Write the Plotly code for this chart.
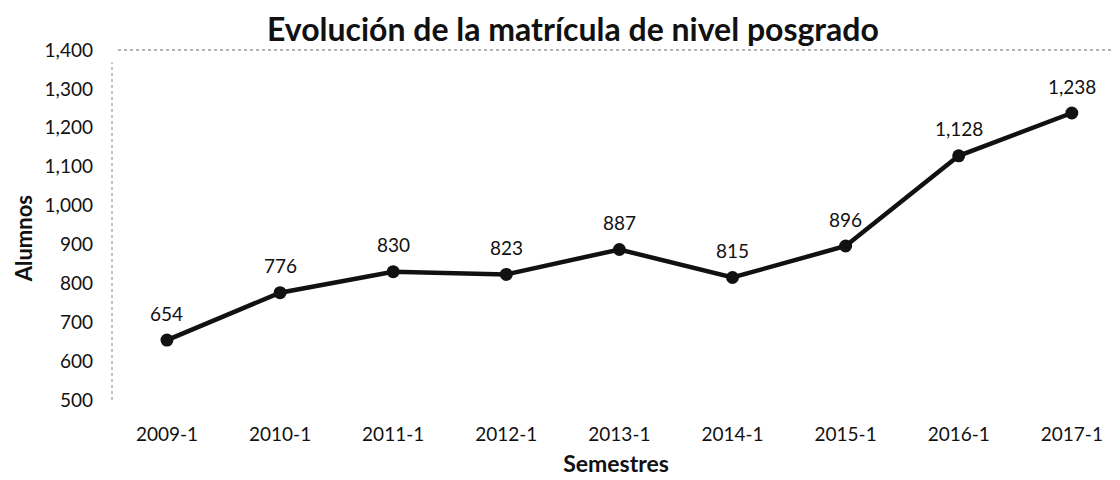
import plotly.graph_objects as go

semestres = ["2009-1", "2010-1", "2011-1", "2012-1", "2013-1", "2014-1", "2015-1", "2016-1", "2017-1"]
alumnos = [654, 776, 830, 823, 887, 815, 896, 1128, 1238]
y_ticks = [500, 600, 700, 800, 900, 1000, 1100, 1200, 1300, 1400]
y_ticklabels = [f"{v:,}" for v in y_ticks]
labels = [f"{v:,}" for v in alumnos]

FONT = "Lato"
INK = "#111111"

xs = list(range(len(semestres)))

fig = go.Figure()
fig.add_trace(go.Scatter(
    x=xs, y=alumnos,
    mode="lines+markers",
    line=dict(color=INK, width=4.5),
    marker=dict(color=INK, size=13),
    showlegend=False, cliponaxis=False,
))

for xi, yi, lab in zip(xs, alumnos, labels):
    fig.add_annotation(x=xi, y=yi, text=lab, showarrow=False, yshift=27,
                       font=dict(family=FONT, size=19, color=INK))

fig.add_annotation(xref="paper", yref="paper", x=-0.088, y=0.46, text="<b>Alumnos</b>",
                   textangle=-90, showarrow=False, xanchor="center", yanchor="middle",
                   font=dict(family=FONT, size=22, color=INK))

fig.update_layout(
    width=1112, height=472,
    margin=dict(l=104, r=0, t=42, b=80),
    paper_bgcolor="white", plot_bgcolor="white",
    title=dict(text="<b>Evolución de la matrícula de nivel posgrado</b>",
               x=0.508, xanchor="center", y=0.953, yanchor="middle",
               font=dict(family=FONT, size=32, color=INK)),
    xaxis=dict(
        tickmode="array", tickvals=xs, ticktext=semestres,
        range=[-0.486, 8.426], showgrid=False, zeroline=False, showline=False,
        ticks="", ticklabelstandoff=21,
        tickfont=dict(family=FONT, size=19, color=INK),
        title=dict(text="<b>Semestres</b>", font=dict(family=FONT, size=23, color=INK), standoff=11),
    ),
    yaxis=dict(
        range=[500, 1400], tickmode="array", tickvals=y_ticks, ticktext=y_ticklabels,
        showgrid=False, zeroline=False, showline=False, ticks="",
        ticklabelstandoff=18,
        tickfont=dict(family=FONT, size=19, color=INK),
    ),
)

fig.add_shape(type="line", xref="paper", yref="paper", x0=0.006, x1=1, y0=1, y1=1,
              line=dict(color="#666666", width=1, dash="dot"))
fig.add_shape(type="line", xref="paper", yref="paper", x0=0, x1=0, y0=0, y1=0.965,
              line=dict(color="#888888", width=1, dash="dot"))

fig.write_html("out.html")
